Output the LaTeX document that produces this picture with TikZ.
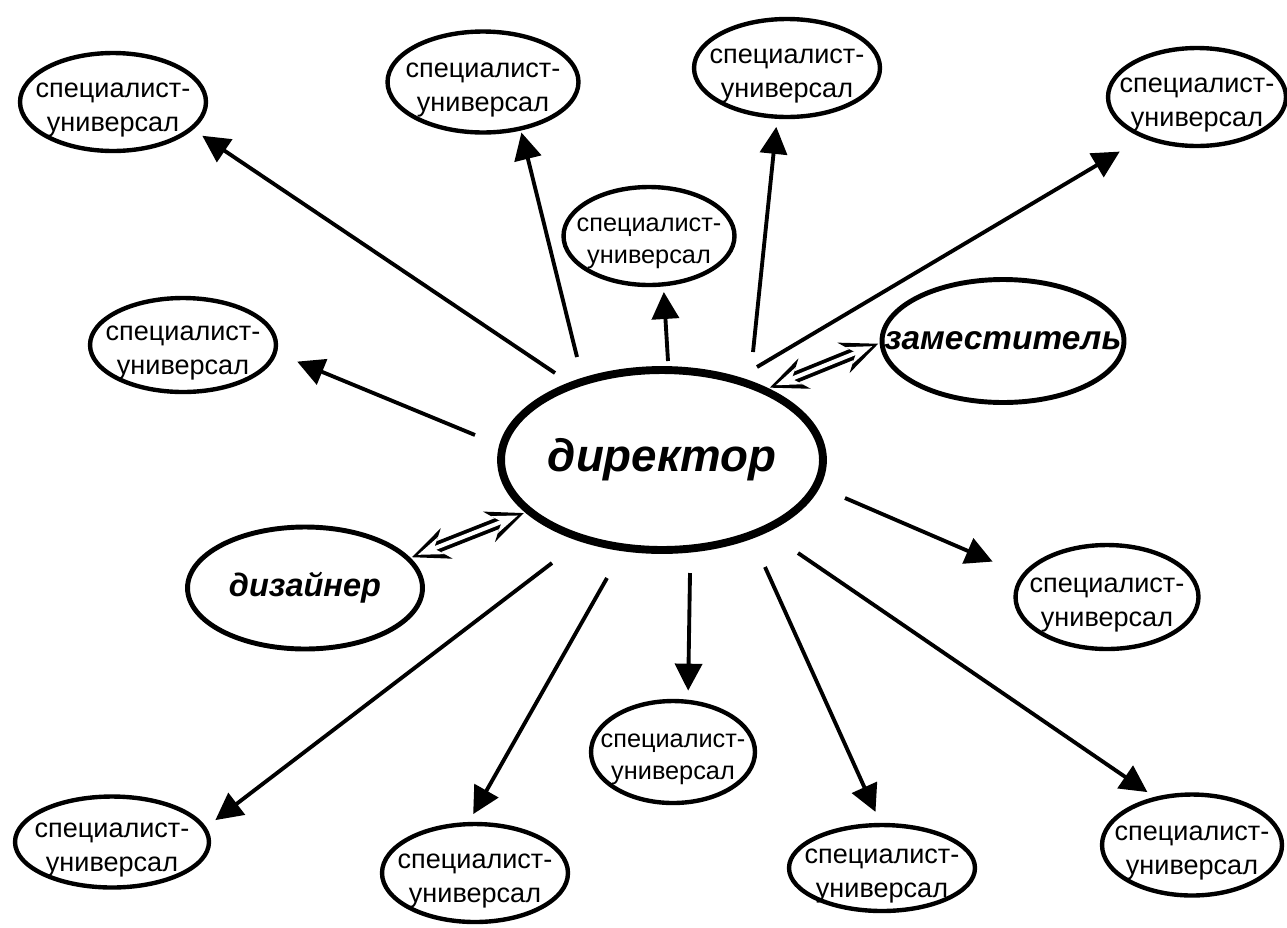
\documentclass[tikz,border=0pt]{standalone}
\usepackage{fontspec}
\setmainfont{Liberation Sans}
\usetikzlibrary{arrows.meta, shapes.geometric}
\newcommand{\staff}{\raisebox{2.3pt}[0pt][0pt]{\begin{tabular}[t]{@{}c@{}}специалист-\\универсал\end{tabular}}}
\tikzstyle{spec} = [ellipse, draw, line width=2.5pt, inner xsep=-25pt, inner ysep=0pt, minimum width=3.72cm, minimum height=1.96cm, font=\fontsize{15.4}{19}\selectfont]
\tikzstyle{small} = [font=\fontsize{14.4}{18}\selectfont]
\tikzstyle{boss} = [ellipse, draw, line width=4.5pt, inner xsep=-25pt, inner ysep=0pt, minimum width=6.44cm, minimum height=3.6cm, font=\fontsize{26}{30}\selectfont\bfseries\itshape]
\tikzstyle{aide} = [ellipse, draw, line width=2.8pt, inner xsep=-25pt, inner ysep=0pt, font=\fontsize{18.5}{22}\selectfont\bfseries\itshape]
\tikzstyle{push} = [line width=2.2pt, -{Triangle[length=5.4mm, width=5.4mm]}]
\tikzstyle{link} = [draw=white, line width=2.3pt, {Stealth[length=5mm, width=3.6mm, inset=1.6mm]}-{Stealth[length=5mm, width=3.6mm, inset=1.6mm]}, shorten <=1.6mm, shorten >=1.6mm,
    preaction={draw=black, line width=6.6pt, {Stealth[length=7.4mm, width=6.4mm, inset=2.6mm]}-{Stealth[length=7.4mm, width=6.4mm, inset=2.6mm]}, shorten <=0.3mm, shorten >=0.3mm}]

\begin{document}
\begin{tikzpicture}[x=0.02cm, y=-0.02cm]
    \useasboundingbox (0,0) rectangle (1287,927);

    % The people
    \node[boss] (dir) at (662,460) {директор};
    \node[aide, minimum width=4.84cm, minimum height=2.46cm, font=\fontsize{19}{22}\selectfont\bfseries\itshape] (zam) at (1003,341) {заместитель};
    \node[aide, minimum width=4.7cm, minimum height=2.44cm] (dsg) at (305,588) {дизайнер};

    \node[spec] (s1) at (113,102) {\staff};
    \node[spec, minimum width=3.82cm, minimum height=2.02cm] (s2) at (483,82) {\staff};
    \node[spec] (s3) at (787,68) {\staff};
    \node[spec, minimum width=3.56cm] (s4) at (1197,97) {\staff};
    \node[spec, small, minimum width=3.42cm] (s5) at (649,236) {\staff};
    \node[spec, minimum height=1.88cm] (s6) at (183,345) {\staff};
    \node[spec, minimum width=3.66cm, minimum height=2.08cm] (s7) at (1107,597) {\staff};
    \node[spec, small, minimum width=3.28cm, minimum height=2.04cm] (s8) at (673,752) {\staff};
    \node[spec, minimum width=3.88cm, minimum height=1.82cm] (s9) at (112,842) {\staff};
    \node[spec] (s10) at (475,873) {\staff};
    \node[spec, minimum height=1.72cm] (s11) at (882,868) {\staff};
    \node[spec, minimum width=3.6cm, minimum height=2.02cm] (s12) at (1192,845) {\staff};

    % The arrow tails
    \coordinate (t1) at (555,373);
    \coordinate (t2) at (475,435);
    \coordinate (t3) at (577,357);
    \coordinate (t4) at (668,361);
    \coordinate (t5) at (753,352);
    \coordinate (t6) at (757,367);
    \coordinate (t7) at (845,498);
    \coordinate (t8) at (690,573);
    \coordinate (t9) at (765,567);
    \coordinate (t10) at (798,553);
    \coordinate (t11) at (607,578);
    \coordinate (t12) at (552,563);

    % The orders
    \draw[push, shorten >=2.2mm] (t1) -- (s1.-19);
    \draw[push, shorten >=4.4mm] (t2) -- (s6.-5);
    \draw[push, shorten >=0.4mm] (t3) -- (s2.-52);
    \draw[push, shorten >=1.1mm] (t4) -- (s5.-74);
    \draw[push, shorten >=1.6mm] (t5) -- (s3.-101);
    \draw[push, shorten >=5.3mm] (t6) -- (s4.-143);
    \draw[push, shorten >=6.4mm] (t7) -- (s7.165);
    \draw[push, shorten >=1.8mm] (t8) -- (s8.74);
    \draw[push, shorten >=2.4mm] (t9) -- (s11.92);
    \draw[push, shorten >=1.7mm] (t10) -- (s12.128);
    \draw[push, shorten >=1.8mm] (t11) -- (s10.97);
    \draw[push, shorten >=2.3mm] (t12) -- (s9.9);

    % The two-way links
    \draw[link] (dir.-159) -- (dsg.16);
    \draw[link] (dir.34) -- (zam.181);
\end{tikzpicture}
\end{document}
